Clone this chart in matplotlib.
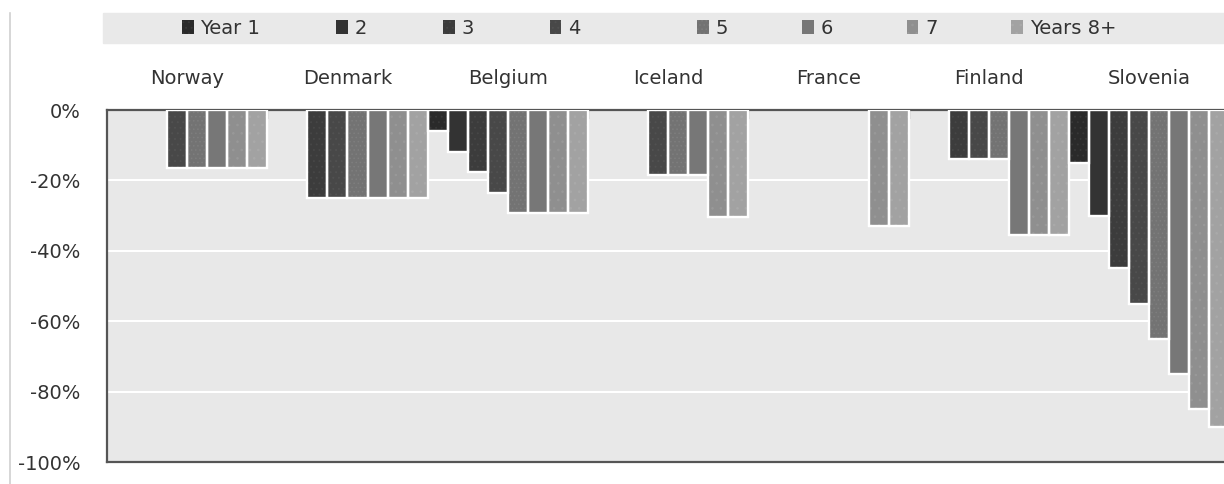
import matplotlib
matplotlib.use("Agg")
import matplotlib.pyplot as plt
from matplotlib.patches import Rectangle, Patch
from matplotlib.lines import Line2D
from matplotlib.ticker import FuncFormatter

# countries along the category axis
countries = ["Norway", "Denmark", "Belgium", "Iceland", "France", "Finland", "Slovenia"]
series_names = ["Year 1", "2", "3", "4", "5", "6", "7", "Years 8+"]

# percentage change per country for each year
year_1 = [0, 0, -5.9, 0, 0, 0, -15]
year_2 = [0, 0, -11.8, 0, 0, 0, -30]
year_3 = [0, -25, -17.6, 0, 0, -14, -45]
year_4 = [-16.4, -25, -23.5, -18.5, 0, -14, -55]
year_5 = [-16.4, -25, -29.4, -18.5, 0, -14, -65]
year_6 = [-16.4, -25, -29.4, -18.5, 0, -35.6, -75]
year_7 = [-16.4, -25, -29.4, -30.5, -33, -35.6, -85]
year_8 = [-16.4, -25, -29.4, -30.5, -33, -35.6, -90]
all_years = [year_1, year_2, year_3, year_4, year_5, year_6, year_7, year_8]

yticks = [0, -20, -40, -60, -80, -100]

# grey shades with a light dotted texture on most series
faces = ["#2a2a2a", "#333333", "#3c3c3c", "#484848", "#737373", "#777777", "#8f8f8f", "#a2a2a2"]
dots = ["#383838", None, "#474747", "#525252", "#7e7e7e", None, "#999999", "#aaaaaa"]
hatches = ["...", None, "...", "...", "....", None, "..", ".."]

text_col = "#333333"
plt.rcParams["font.family"] = ["DejaVu Sans"]
plt.rcParams["hatch.linewidth"] = 0.6

fig = plt.figure(figsize=(12.24, 4.84), dpi=100)

# legend band and thin frame line on the left
fig.patches.append(Rectangle((103 / 1224, 1 - 43 / 484), 1, 30 / 484,
                             transform=fig.transFigure, color="#e9e9e9", zorder=0))
fig.add_artist(Line2D([10 / 1224, 10 / 1224], [0, 1 - 13 / 484],
                      transform=fig.transFigure, color="#d0d0d0", lw=1.2))

ax = fig.add_axes([107 / 1224, 22 / 484, 1117 / 1224, 352 / 484])
ax.set_facecolor("#e8e8e8")

n = len(series_names)
for s in range(n):
    for g, v in enumerate(all_years[s]):
        if v == 0:
            continue
        x = g * n + s + 0.5
        if hatches[s]:
            ax.bar(x, v, width=1.0, color=faces[s], edgecolor=dots[s], hatch=hatches[s],
                   lw=0, zorder=2)
        else:
            ax.bar(x, v, width=1.0, color=faces[s], lw=0, zorder=2)
        ax.bar(x, v, width=1.0, fill=False, edgecolor="white", lw=1.7, zorder=3)

ax.set_xlim(0, 1117 / 20.04)
ax.set_ylim(-100, 0)
ax.set_yticks(yticks)
ax.yaxis.set_major_formatter(FuncFormatter(lambda v, p: f"{abs(v):.0f}%" if v == 0 else f"{v:.0f}%"))
ax.tick_params(axis="y", length=0, pad=19, labelsize=14, labelcolor=text_col)
ax.grid(axis="y", color="white", lw=1.5, zorder=1)
ax.set_axisbelow(True)

# category labels sit above the zero line
ax.xaxis.tick_top()
ax.set_xticks([g * n + n / 2 for g in range(len(countries))])
ax.set_xticklabels(countries)
ax.set_xticks([g * n for g in range(1, len(countries))], minor=True)
ax.tick_params(axis="x", which="major", length=0, pad=16, labelsize=14, labelcolor=text_col)
ax.tick_params(axis="x", which="minor", direction="in", length=6.5, width=1.6, color="#555555")

for side in ["left", "bottom", "top"]:
    ax.spines[side].set_color("#555555")
    ax.spines[side].set_linewidth(1.6)
ax.spines["right"].set_visible(False)

handles = []
for i in range(n):
    handles.append(Patch(facecolor=faces[i], edgecolor=dots[i] or faces[i], lw=0,
                         hatch=hatches[i]))

leg_kw = dict(frameon=False, ncol=4, fontsize=14, handlelength=0.6, handleheight=0.7,
              handletextpad=0.35, borderpad=0, borderaxespad=0, labelcolor=text_col)
leg1 = fig.legend(handles[:4], series_names[:4], loc="center left",
                  bbox_to_anchor=(182 / 1224, 1 - 28 / 484), columnspacing=3.9, **leg_kw)
leg2 = fig.legend(handles[4:], series_names[4:], loc="center left",
                  bbox_to_anchor=(697 / 1224, 1 - 28 / 484), columnspacing=3.8, **leg_kw)

fig.savefig("out.png", dpi=100)
